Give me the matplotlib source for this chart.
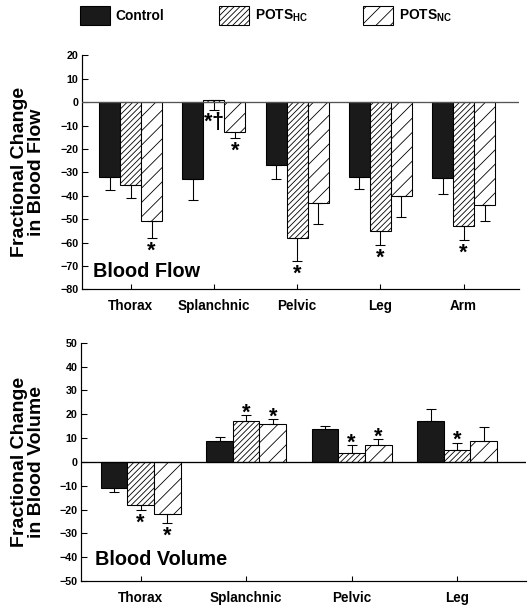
import numpy as np
import matplotlib
matplotlib.use('Agg')
import matplotlib.pyplot as plt
from matplotlib.patches import Patch

plt.rcParams['font.family'] = ['Liberation Sans', 'DejaVu Sans']
plt.rcParams['font.weight'] = 'bold'
plt.rcParams['mathtext.fontset'] = 'custom'
plt.rcParams['mathtext.rm'] = 'Liberation Sans:bold'
plt.rcParams['mathtext.it'] = 'Liberation Sans:bold'
plt.rcParams['mathtext.bf'] = 'Liberation Sans:bold'
plt.rcParams['hatch.linewidth'] = 0.7

# ---- Blood flow (top panel) ----
flow_cats = ['Thorax', 'Splanchnic', 'Pelvic', 'Leg', 'Arm']
flow_ctrl = [-32.0, -33.0, -27.0, -32.0, -32.3]
flow_ctrl_end = [-37.6, -42.0, -32.7, -36.9, -39.3]
flow_hc = [-35.2, 1.0, -58.0, -55.1, -52.9]
flow_hc_end = [-41.0, -3.5, -68.1, -61.0, -59.0]
flow_nc = [-51.0, -12.9, -43.3, -40.0, -44.0]
flow_nc_end = [-58.2, -15.5, -52.1, -49.0, -51.0]
flow_hc_sig = ['', '*\u2020', '*', '*', '*']
flow_nc_sig = ['*', '*', '', '', '']

# ---- Blood volume (bottom panel) ----
vol_cats = ['Thorax', 'Splanchnic', 'Pelvic', 'Leg']
vol_ctrl = [-11.0, 8.7, 13.9, 17.0]
vol_ctrl_end = [-12.5, 10.5, 15.1, 22.0]
vol_hc = [-18.1, 17.2, 3.9, 5.0]
vol_hc_end = [-20.3, 19.5, 6.9, 8.0]
vol_nc = [-22.0, 15.8, 7.0, 8.8]
vol_nc_end = [-25.6, 17.8, 9.4, 14.8]
vol_hc_sig = ['*', '*', '*', '*']
vol_nc_sig = ['*', '*', '*', '']

DPI = 86
fig = plt.figure(figsize=(532 / DPI, 611 / DPI), dpi=DPI)

ax1 = fig.add_axes([0.1541, 0.5265, 0.8214, 0.3827])
ax2 = fig.add_axes([0.1523, 0.0491, 0.8359, 0.3900])

styles = [dict(color='#1a1a1a', edgecolor='black', hatch=None),
          dict(color='white', edgecolor='black', hatch='/////'),
          dict(color='white', edgecolor='black', hatch='//')]

STAR_FS = 18
STAR_GAP = 6.5               # whisker end to centre of the asterisk (pt)
STAR_SHIFT = 0.2 * STAR_FS   # asterisk ink sits above the centre of its box


def draw_panel(ax, cats, series, ends, sigs, ylim, yticks, xlim, title, title_pos, zero_color):
    x = np.arange(len(cats))
    w = 0.252
    for i, (vals, end, st) in enumerate(zip(series, ends, styles)):
        vals = np.array(vals)
        end = np.array(end)
        xs = x + (i - 1) * w
        ax.bar(xs, vals, width=w, color=st['color'], edgecolor=st['edgecolor'],
               hatch=st['hatch'], linewidth=0.9, zorder=2)
        lo = np.clip(vals - end, 0, None)
        hi = np.clip(end - vals, 0, None)
        ax.errorbar(xs, vals, yerr=[lo, hi], fmt='none', ecolor='black',
                    elinewidth=0.9, capsize=4.2, capthick=0.9, zorder=3)
        if sigs[i] is not None:
            for xi, v, e, s in zip(xs, vals, end, sigs[i]):
                if not s:
                    continue
                d = 1 if e > v else -1
                # mathtext keeps the box tighter round the asterisk
                ax.annotate('$' + s + '$', (xi, e), xytext=(0, d * STAR_GAP - STAR_SHIFT),
                            textcoords='offset points', ha='center', va='center',
                            fontsize=STAR_FS, fontweight='bold')
    ax.axhline(0, color=zero_color, lw=1.1, zorder=4)
    ax.set_xlim(*xlim)
    ax.set_ylim(*ylim)
    ax.set_yticks(yticks)
    ax.set_xticks(x)
    ax.set_xticklabels(cats, fontsize=11.3, fontweight='bold')
    ax.tick_params(axis='y', direction='in', length=4.8, width=0.9, pad=3, labelsize=9)
    ax.tick_params(axis='x', direction='in', length=4.5, width=0.9, pad=8)
    for lab in ax.get_yticklabels():
        lab.set_fontweight('bold')
    ax.spines['top'].set_visible(False)
    ax.spines['right'].set_visible(False)
    ax.spines['left'].set_linewidth(1.0)
    ax.spines['bottom'].set_linewidth(1.0)
    ax.text(title_pos[0], title_pos[1], title, transform=ax.transAxes,
            fontsize=16.7, fontweight='bold', va='baseline', ha='left')


draw_panel(ax1, flow_cats, [flow_ctrl, flow_hc, flow_nc],
           [flow_ctrl_end, flow_hc_end, flow_nc_end],
           [None, flow_hc_sig, flow_nc_sig],
           (-80, 20), np.arange(-80, 21, 10), (-0.585, 4.665),
           'Blood Flow', (0.0245, 0.054), '#555555')
ax1.set_ylabel('Fractional Change\nin Blood Flow', fontsize=16.3, fontweight='bold',
               linespacing=1.0)
ax1.yaxis.set_label_coords(-0.085, 0.5)

draw_panel(ax2, vol_cats, [vol_ctrl, vol_hc, vol_nc],
           [vol_ctrl_end, vol_hc_end, vol_nc_end],
           [None, vol_hc_sig, vol_nc_sig],
           (-50, 50), np.arange(-50, 51, 10), (-0.566, 3.65),
           'Blood Volume', (0.031, 0.067), 'black')
ax2.set_ylabel('Fractional Change\nin Blood Volume', fontsize=16.3, fontweight='bold',
               linespacing=1.0)
ax2.yaxis.set_label_coords(-0.080, 0.5)

handles = [Patch(facecolor='#1a1a1a', edgecolor='black', linewidth=0.9),
           Patch(facecolor='white', edgecolor='black', hatch='/////', linewidth=0.9),
           Patch(facecolor='white', edgecolor='black', hatch='//', linewidth=0.9)]
labels = ['Control', r'POTS$_{\mathbf{HC}}$', r'POTS$_{\mathbf{NC}}$']
fig.legend(handles, labels, loc='upper left', bbox_to_anchor=(80 / 532, 1 - 6 / 611),
           ncol=3, frameon=False, handlelength=2.15, handleheight=1.75,
           handletextpad=0.45, columnspacing=4.0, borderpad=0, borderaxespad=0,
           prop={'weight': 'bold', 'size': 11.5})

fig.savefig('out.png', dpi=DPI)
